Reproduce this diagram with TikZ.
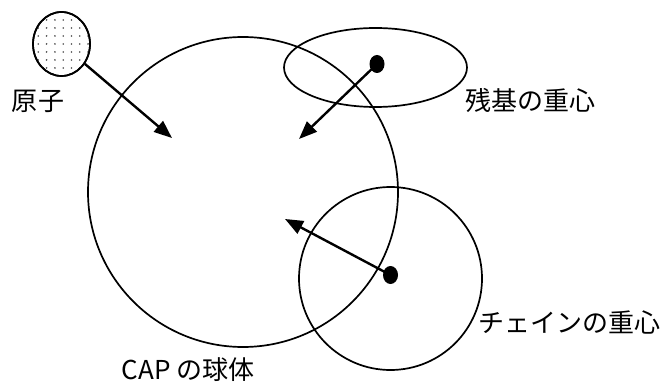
\documentclass[tikz,border=0pt]{standalone}
\usepackage{fontspec}
\newfontfamily\jp{Noto Sans CJK JP}
\usetikzlibrary{shapes.geometric,arrows.meta}
\tikzset{
  outline/.style={draw=black, line width=1.7pt, inner sep=0pt},
  ptr/.style={line width=2.4pt, -{Triangle[length=18pt,width=14pt]}},
  lbl/.style={inner sep=0pt, font=\jp\fontsize{26}{26}\selectfont},
  blob/.style={ellipse, fill=black, inner sep=0pt, minimum width=15pt, minimum height=18pt}
}
\begin{document}
\begin{tikzpicture}[x=1pt,y=-1pt]
\useasboundingbox (0,0) rectangle (671,387);
% atom with stipple
\node[ellipse, outline, minimum width=57pt, minimum height=64pt, fill=white] (atom) at (61.5,44) {};
\begin{scope}
  \clip (61.5,44) ellipse [x radius=28pt, y radius=31.5pt];
  \foreach \i in {0,...,8} {
    \foreach \j in {0,...,9} {
      \fill[black!70] (30+\i*8.3, 12+\j*8) circle (0.9pt);
    }
  }
\end{scope}
\node[ellipse, outline, minimum width=57pt, minimum height=64pt] at (61.5,44) {};
% CAP sphere
\node[circle, outline, minimum size=310pt] (cap) at (243,192) {};
% residue ellipse
\node[ellipse, outline, minimum width=183pt, minimum height=79pt] (res) at (375.5,67.5) {};
% chain circle
\node[circle, outline, minimum size=183pt] (chain) at (390.5,278.5) {};
% centroids
\node[blob] (rdot) at (377,64) {};
\node[blob] (cdot) at (390.5,275) {};
% arrow ends
\coordinate (t1) at (172,138);
\coordinate (t2) at (299,139);
\coordinate (t3) at (285,219);
\draw[ptr] (atom) -- (t1);
\draw[ptr] (rdot.center) -- (t2);
\draw[ptr] (cdot.center) -- (t3);
% labels
\node[lbl] (l1) at (38,101) {原子};
\node[lbl] (l2) at (530,101) {残基の重心};
\node[lbl] (l3) at (569,323) {チェインの重心};
\node[lbl] (l4) at (188,370) {CAP の球体};
\end{tikzpicture}
\end{document}
